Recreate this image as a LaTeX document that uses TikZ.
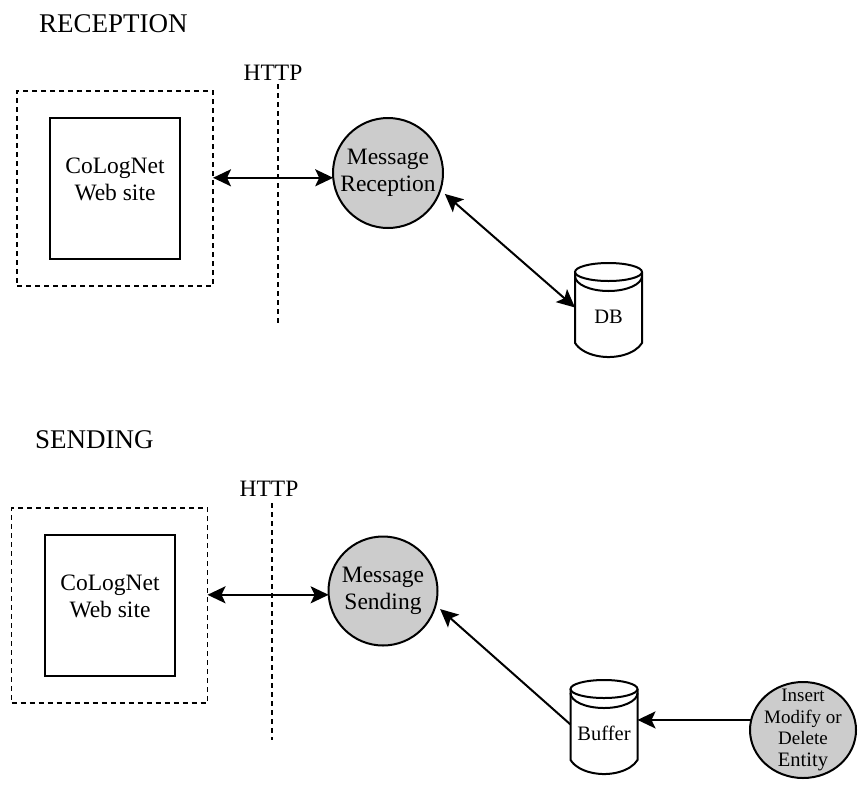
\documentclass[tikz,border=0pt]{standalone}
\usepackage{fontspec}
\setmainfont{Liberation Serif}
\usetikzlibrary{positioning,arrows.meta,calc,shapes.geometric}
\newcommand\fTitle{\fontsize{27}{31}\selectfont}
\newcommand\fText{\fontsize{23.5}{27}\selectfont}
\newcommand\fSmall{\fontsize{19}{21.5}\selectfont}

\begin{document}
\begin{tikzpicture}[x=1pt, y=1pt,
  title/.style={font=\fTitle, anchor=base west, inner sep=0pt},
  proto/.style={font=\fText, anchor=base, inner sep=0pt},
  wall/.style={line width=1.7pt, dash pattern=on 5pt off 4pt},
  zone/.style={draw, wall, minimum width=196pt, minimum height=195pt, outer sep=0pt},
  site/.style={draw, line width=2pt, minimum width=130pt, minimum height=141pt, outer sep=0pt},
  sitetext/.style={font=\fText, align=center, yshift=9.5pt},
  proc/.style={circle, draw, line width=2pt, fill=black!20, minimum size=110pt,
               inner sep=0pt, outer sep=0pt, align=center, font=\fText},
  store/.style={minimum width=67pt, minimum height=71pt, inner sep=0pt, outer sep=0pt,
                font=\fontsize{20.5}{24}\selectfont, text height=32pt, text depth=0pt},
  can/.style={line width=2pt},
  link/.style={-{Stealth[length=18pt,width=17pt,inset=4pt]}, line width=2pt},
  both/.style={link, {Stealth[length=18pt,width=17pt,inset=4pt]}-{Stealth[length=18pt,width=17pt,inset=4pt]}},
]
\useasboundingbox (0,0) rectangle (858,-787);
% reception
\node[title] (rtitle) at (39,-32) {RECEPTION};
\node[zone] (rzone) at (115,-188.5) {};
\node[site, label={[sitetext]center:CoLogNet\\Web site}] (rsite) at (115,-188.5) {};
\node[proto] (rhttp) at (273,-80) {HTTP};
\draw[wall] (278,-84) -- (278,-323);
\node[proc] (rmsg) at (388,-173) {Message\\Reception};
\node[store] (db) at (608.5,-307.5) {DB};
\draw[both] (rzone.east |- rmsg.185) -- (rmsg.185);
\draw[both, shorten <=6pt] (rmsg.-18) -- (db.west);
% sending
\node[title] (stitle) at (35,-448) {SENDING};
\node[zone] (szone) at (109.5,-605.5) {};
\node[site, label={[sitetext]center:CoLogNet\\Web site}] (ssite) at (110,-605.5) {};
\node[proto] (shttp) at (269,-496) {HTTP};
\draw[wall] (272,-503) -- (272,-740);
\node[proc, minimum size=109pt] (smsg) at (383,-591) {Message\\Sending};
\node[store] (buf) at (604,-724.5) {Buffer};
\node[proc, ellipse, minimum width=106pt, minimum height=96pt, inner xsep=-2pt, inner ysep=-8pt,
      font=\fSmall] (ent) at (803,-730) {Insert\\Modify or\\Delete\\{\fontsize{20.5}{21.5}\selectfont Entity}};
\draw[both] (szone.east |- smsg.184) -- (smsg.184);
\draw[link, shorten >=6pt] (buf.west) -- (smsg.-15);
\draw[link] (ent.169) -- (ent.169 -| buf.east);
% can outlines
\foreach \n in {db,buf} {
  \draw[can] (\n.north) ellipse [x radius=33.5pt, y radius=9pt];
  \draw[can] ($(\n.north west)+(0,-4)$) arc[start angle=180, end angle=360, x radius=33.5pt, y radius=15pt];
  \draw[can] (\n.north east) -- (\n.south east) arc[start angle=340, end angle=200, x radius=35.6pt, y radius=21.3pt]
    -- (\n.north west);
}
\end{tikzpicture}
\end{document}
